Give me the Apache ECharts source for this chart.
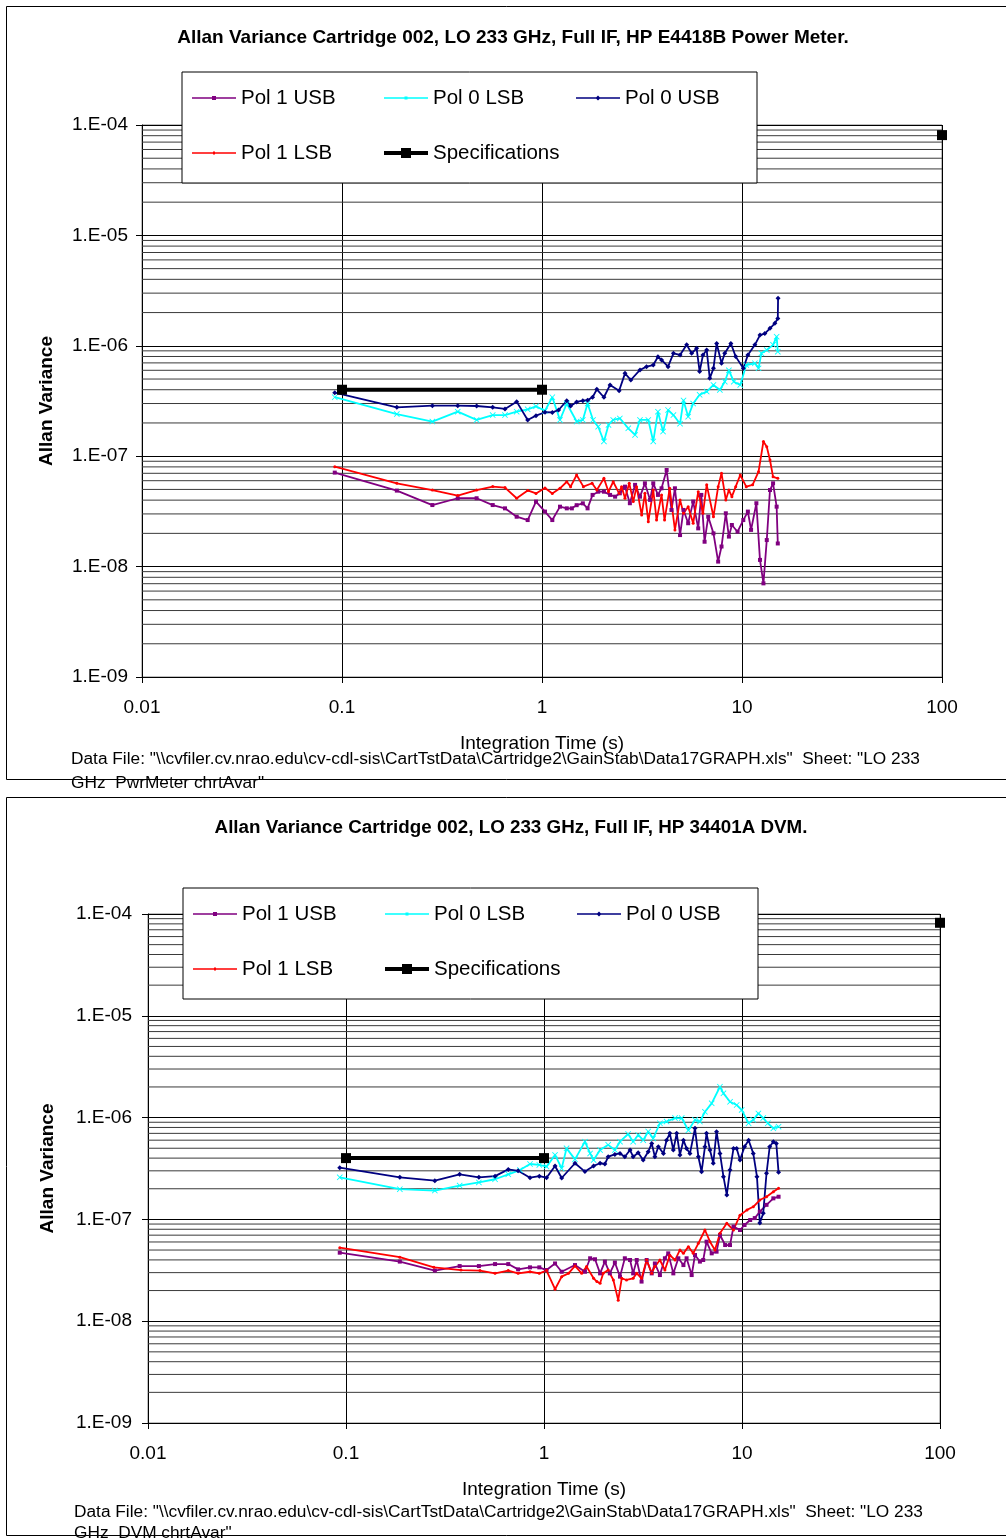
<!DOCTYPE html>
<html lang="en">
  <head>
    <meta charset="UTF-8" />
    <title>Allan Variance Cartridge 002</title>
    <script src="https://cdn.jsdelivr.net/npm/echarts@6.0.0/dist/echarts.min.js"></script>
    <style>
      body {
        margin: 0;
        background-color: #ffffff;
      }
      #main {
        width: 1006px;
        height: 1538px;
      }
    </style>
  </head>
  <body>
    <div id="main"></div>
    <script>
      // ---- Chart 1: HP E4418B power meter, [integration time (s), Allan variance]
      const pol1UsbPM = [[0.092,7.1e-8],[0.188,4.88e-8],[0.283,3.61e-8],[0.379,4.16e-8],[0.471,4.16e-8],[0.567,3.61e-8],[0.653,3.37e-8],[0.747,2.83e-8],[0.848,2.64e-8],[0.933,3.88e-8],[1.035,3.15e-8],[1.126,2.64e-8],[1.23,3.49e-8],[1.33,3.37e-8],[1.41,3.37e-8],[1.49,3.6e-8],[1.6,3.74e-8],[1.69,3.37e-8],[1.79,4.46e-8],[1.91,4.77e-8],[2.04,4.77e-8],[2.19,4.46e-8],[2.32,4.3e-8],[2.45,4.61e-8],[2.6,5.3e-8],[2.75,3.75e-8],[2.92,5.5e-8],[3.09,4.3e-8],[3.27,5.68e-8],[3.47,4.02e-8],[3.6,5.68e-8],[3.8,4.46e-8],[3.96,5.12e-8],[4.2,7.5e-8],[4.44,3.26e-8],[4.62,5.12e-8],[4.9,1.93e-8],[5.1,3.26e-8],[5.38,2.47e-8],[5.7,3.88e-8],[6.04,2.22e-8],[6.26,4.46e-8],[6.5,1.68e-8],[6.78,2.83e-8],[7.2,2.0e-8],[7.6,1.11e-8],[7.9,1.52e-8],[8.3,3.04e-8],[8.6,1.87e-8],[8.9,2.38e-8],[9.5,2.07e-8],[10.15,2.64e-8],[10.7,3.15e-8],[11.1,2.15e-8],[11.8,3.75e-8],[12.3,1.15e-8],[12.8,7.05e-9],[13.3,1.74e-8],[13.8,4.94e-8],[14.3,5.68e-8],[14.9,3.49e-8],[15.1,1.62e-8]];
      const pol0LsbPM = [[0.092,3.42e-7],[0.188,2.41e-7],[0.283,2.06e-7],[0.379,2.53e-7],[0.471,2.13e-7],[0.567,2.36e-7],[0.653,2.36e-7],[0.747,2.53e-7],[0.848,2.66e-7],[0.933,2.83e-7],[1.035,2.58e-7],[1.126,3.42e-7],[1.23,2.13e-7],[1.33,3.0e-7],[1.49,2.06e-7],[1.6,2.13e-7],[1.69,3.0e-7],[1.8,2.13e-7],[1.91,1.85e-7],[2.04,1.36e-7],[2.15,1.92e-7],[2.27,2.13e-7],[2.45,2.2e-7],[2.7,1.79e-7],[2.92,1.56e-7],[3.09,2.13e-7],[3.4,2.13e-7],[3.6,1.36e-7],[3.8,2.53e-7],[4.03,1.67e-7],[4.27,2.62e-7],[4.54,2.36e-7],[4.9,1.97e-7],[5.1,3.2e-7],[5.38,2.28e-7],[5.7,3.0e-7],[6.14,3.6e-7],[6.66,3.85e-7],[7.2,4.42e-7],[7.75,3.98e-7],[8.2,4.73e-7],[8.6,6.0e-7],[9.1,4.73e-7],[9.8,4.42e-7],[10.5,6.7e-7],[11.6,6.95e-7],[12.1,6.25e-7],[12.5,8.55e-7],[13.3,9.15e-7],[14.3,1.02e-6],[14.9,1.21e-6],[15.1,8.85e-7]];
      const pol0UsbPM = [[0.092,3.76e-7],[0.188,2.77e-7],[0.283,2.87e-7],[0.379,2.87e-7],[0.471,2.85e-7],[0.567,2.77e-7],[0.653,2.68e-7],[0.747,3.12e-7],[0.848,2.13e-7],[0.933,2.33e-7],[1.035,2.5e-7],[1.126,2.49e-7],[1.21,2.62e-7],[1.33,3.18e-7],[1.39,2.85e-7],[1.49,3.1e-7],[1.6,3.18e-7],[1.69,3.22e-7],[1.79,3.42e-7],[1.88,4.03e-7],[2.04,3.42e-7],[2.19,4.42e-7],[2.43,3.91e-7],[2.6,5.63e-7],[2.78,4.9e-7],[3.09,6.04e-7],[3.33,6.47e-7],[3.6,6.7e-7],[3.8,7.96e-7],[3.96,7.45e-7],[4.27,6.47e-7],[4.54,8.55e-7],[4.9,8.26e-7],[5.29,1.02e-6],[5.6,8.55e-7],[5.93,9.48e-7],[6.14,5.84e-7],[6.38,8.26e-7],[6.66,9.15e-7],[6.9,5.07e-7],[7.2,6.25e-7],[7.47,1.05e-6],[7.9,6.95e-7],[8.2,8.55e-7],[8.8,1.05e-6],[9.3,7.98e-7],[10.15,6.25e-7],[10.7,8.26e-7],[11.6,1.02e-6],[12.3,1.25e-6],[13.0,1.29e-6],[13.8,1.44e-6],[14.6,1.6e-6],[15.1,1.77e-6],[15.15,2.69e-6]];
      const pol1LsbPM = [[0.092,8.03e-8],[0.188,5.68e-8],[0.283,4.94e-8],[0.379,4.4e-8],[0.471,4.94e-8],[0.567,5.31e-8],[0.653,5.2e-8],[0.747,4.16e-8],[0.848,4.9e-8],[0.933,4.6e-8],[1.035,5.16e-8],[1.126,4.6e-8],[1.23,5.12e-8],[1.33,5.87e-8],[1.39,5.3e-8],[1.49,6.76e-8],[1.61,5.3e-8],[1.78,5.69e-8],[1.88,4.94e-8],[2.04,6.3e-8],[2.15,4.77e-8],[2.27,5.87e-8],[2.43,4.61e-8],[2.5,5.3e-8],[2.6,4.16e-8],[2.73,5.69e-8],[2.86,3.88e-8],[2.97,5.3e-8],[3.15,2.93e-8],[3.27,4.61e-8],[3.4,2.55e-8],[3.6,4.94e-8],[3.74,2.64e-8],[3.96,4.46e-8],[4.1,2.64e-8],[4.35,5.12e-8],[4.62,2.15e-8],[4.9,4.02e-8],[5.1,3.04e-8],[5.38,3.49e-8],[5.7,2.47e-8],[6.04,4.77e-8],[6.38,3.04e-8],[6.66,5.5e-8],[7.2,2.83e-8],[7.6,5.3e-8],[7.9,7.0e-8],[8.3,4.02e-8],[8.6,4.94e-8],[8.9,4.3e-8],[9.3,5.3e-8],[9.8,6.76e-8],[10.5,5.3e-8],[11.3,5.5e-8],[12.1,7.24e-8],[12.8,1.36e-7],[13.3,1.22e-7],[13.8,9.24e-8],[14.3,6.5e-8],[15.1,6.3e-8]];
      const specPM = [[0.1,4.0e-7],[1,4.0e-7],[10,'-'],[100,8.1e-5]];

      // ---- Chart 2: HP 34401A DVM
      const pol1UsbDVM = [[0.093,4.71e-8],[0.187,3.85e-8],[0.281,3.14e-8],[0.375,3.48e-8],[0.469,3.48e-8],[0.566,3.64e-8],[0.66,3.64e-8],[0.74,3.23e-8],[0.85,3.38e-8],[0.947,3.38e-8],[1.03,3.18e-8],[1.137,3.69e-8],[1.228,3.06e-8],[1.434,3.56e-8],[1.61,3.06e-8],[1.71,4.15e-8],[1.81,4.06e-8],[1.92,2.95e-8],[2.03,3.85e-8],[2.15,2.95e-8],[2.28,3.77e-8],[2.42,2.74e-8],[2.56,4.15e-8],[2.72,3.99e-8],[2.82,2.95e-8],[2.94,3.99e-8],[3.11,2.45e-8],[3.3,3.99e-8],[3.5,2.95e-8],[3.63,3.69e-8],[3.85,2.84e-8],[4.08,4.15e-8],[4.24,4.64e-8],[4.5,2.95e-8],[4.77,4.15e-8],[5.06,3.56e-8],[5.25,4.15e-8],[5.57,2.84e-8],[5.79,4.47e-8],[6.13,3.85e-8],[6.37,3.99e-8],[6.62,6.04e-8],[7.03,4.64e-8],[7.44,4.82e-8],[7.74,7.03e-8],[8.22,5.6e-8],[8.7,5.6e-8],[9.06,8.5e-8],[9.77,7.87e-8],[10.3,8.81e-8],[11.0,9.87e-8],[11.6,1.03e-7],[12.3,1.19e-7],[13.3,1.39e-7],[14.4,1.61e-7],[15.3,1.67e-7]];
      const pol0LsbDVM = [[0.093,2.59e-7],[0.187,1.98e-7],[0.281,1.92e-7],[0.375,2.15e-7],[0.469,2.31e-7],[0.566,2.48e-7],[0.66,2.77e-7],[0.756,3.05e-7],[0.85,3.5e-7],[0.947,3.43e-7],[1.03,3.3e-7],[1.137,4.3e-7],[1.228,3.17e-7],[1.3,4.99e-7],[1.434,3.89e-7],[1.61,5.8e-7],[1.71,4.45e-7],[1.78,3.83e-7],[1.92,4.8e-7],[2.11,5.4e-7],[2.28,4.8e-7],[2.42,5.8e-7],[2.66,6.9e-7],[2.82,5.8e-7],[2.99,6.75e-7],[3.17,6.0e-7],[3.36,7.3e-7],[3.56,6.25e-7],[3.85,8.8e-7],[4.16,9.15e-7],[4.59,9.9e-7],[4.96,9.9e-7],[5.36,7.5e-7],[5.79,9.5e-7],[6.13,9.15e-7],[6.5,1.14e-6],[7.03,1.38e-6],[7.74,2.01e-6],[8.06,1.73e-6],[8.7,1.43e-6],[9.4,1.33e-6],[9.96,1.19e-6],[10.8,8.8e-7],[11.4,9.5e-7],[12.1,1.1e-6],[12.8,9.9e-7],[13.5,8.8e-7],[14.4,7.85e-7],[15.3,8.15e-7]];
      const pol0UsbDVM = [[0.093,3.22e-7],[0.187,2.59e-7],[0.281,2.4e-7],[0.375,2.77e-7],[0.469,2.59e-7],[0.566,2.66e-7],[0.66,3.1e-7],[0.74,3.0e-7],[0.85,2.57e-7],[0.947,2.66e-7],[1.03,2.57e-7],[1.137,3.35e-7],[1.228,2.55e-7],[1.434,3.56e-7],[1.61,2.95e-7],[1.78,3.35e-7],[1.92,3.56e-7],[2.03,3.5e-7],[2.11,4.13e-7],[2.28,4.35e-7],[2.42,4.45e-7],[2.56,4.13e-7],[2.72,4.8e-7],[2.82,4.13e-7],[2.99,4.51e-7],[3.17,3.83e-7],[3.36,4.62e-7],[3.5,5.58e-7],[3.63,4.13e-7],[3.78,5.17e-7],[4.01,4.45e-7],[4.16,6.0e-7],[4.32,7.0e-7],[4.5,4.8e-7],[4.68,7.0e-7],[4.86,4.3e-7],[5.06,6.0e-7],[5.25,4.98e-7],[5.46,4.45e-7],[5.79,7.85e-7],[6.02,4.13e-7],[6.25,2.94e-7],[6.5,5.17e-7],[6.62,7.0e-7],[6.89,4.8e-7],[7.16,3.56e-7],[7.44,7.27e-7],[7.74,4.45e-7],[8.06,2.63e-7],[8.38,1.74e-7],[8.7,3.05e-7],[9.06,4.98e-7],[9.4,4.98e-7],[9.77,3.83e-7],[10.3,5.17e-7],[10.8,6.0e-7],[11.4,4.45e-7],[11.9,2.63e-7],[12.3,9.2e-8],[12.8,1.15e-7],[13.3,2.84e-7],[13.8,5.17e-7],[14.4,5.78e-7],[14.9,5.58e-7],[15.3,2.9e-7]];
      const pol1LsbDVM = [[0.093,5.28e-8],[0.187,4.25e-8],[0.278,3.38e-8],[0.381,3.18e-8],[0.475,3.14e-8],[0.566,2.95e-8],[0.66,3.14e-8],[0.74,2.95e-8],[0.85,3.06e-8],[0.947,2.95e-8],[1.03,3.14e-8],[1.137,2.06e-8],[1.228,2.74e-8],[1.33,2.95e-8],[1.434,3.49e-8],[1.55,2.95e-8],[1.64,3.44e-8],[1.78,2.64e-8],[1.85,2.45e-8],[1.92,2.36e-8],[1.99,2.95e-8],[2.11,3.18e-8],[2.24,2.54e-8],[2.37,1.61e-8],[2.47,2.64e-8],[2.61,2.54e-8],[2.82,2.64e-8],[2.94,2.95e-8],[3.11,2.64e-8],[3.3,3.99e-8],[3.5,2.95e-8],[3.63,3.44e-8],[3.85,3.99e-8],[4.08,3.18e-8],[4.32,4.45e-8],[4.59,3.99e-8],[4.86,5.01e-8],[5.06,4.64e-8],[5.36,5.4e-8],[5.67,4.64e-8],[6.02,5.82e-8],[6.5,7.87e-8],[6.89,6.04e-8],[7.3,5.01e-8],[7.74,7.3e-8],[8.38,9.16e-8],[9.06,7.87e-8],[9.77,1.1e-7],[10.6,1.24e-7],[11.4,1.33e-7],[12.3,1.55e-7],[13.3,1.67e-7],[14.4,1.87e-7],[15.3,2.02e-7]];
      const specDVM = [[0.1,4.0e-7],[1,4.0e-7],[10,'-'],[100,8.2e-5]];

      const seriesNames = ['Pol 1 USB', 'Pol 0 LSB', 'Pol 0 USB', 'Pol 1 LSB', 'Specifications'];
      const seriesColors = ['#800080', '#00ffff', '#000080', '#ff0000', '#000000'];
      const titles = [
        'Allan Variance Cartridge 002, LO 233 GHz, Full IF, HP E4418B Power Meter.',
        'Allan Variance Cartridge 002, LO 233 GHz, Full IF, HP 34401A DVM.'
      ];
      const fileNote = 'Data File: "\\\\cvfiler.cv.nrao.edu\\cv-cdl-sis\\CartTstData\\Cartridge2\\GainStab\\Data17GRAPH.xls"  Sheet: "LO 233';
      const sheetNotes = ['GHz  PwrMeter chrtAvar"', 'GHz  DVM chrtAvar"'];

      const FONT = '"Liberation Sans", Arial, sans-serif';
      const crossPath = 'path://M0,1L1,0L5,4L9,0L10,1L6,5L10,9L9,10L5,6L1,10L0,9L4,5Z';
      const symbols = ['rect', crossPath, 'diamond', 'circle', 'rect'];
      const symbolSizes = [4, 6, 5, 3, 10];
      // legend icons: line with its marker, drawn as one path
      const legendIcons = [
        'path://M0,1.2H44V2.8H0ZM20,0H24V4H20Z',
        'path://M0,1.2H44V2.8H0ZM20.5,0.5H23.5V3.5H20.5Z',
        'path://M0,1.7H44V3.3H0ZM22,0L24.5,2.5L22,5L19.5,2.5Z',
        'path://M0,1.2H44V2.8H0ZM21,0.5H23V3.5H21Z',
        'path://M0,3H44V7H0ZM17,0H27V10H17Z'
      ];

      // minor horizontal gridlines at 2..9 x 10^e, drawn as one broken line across the plot
      const minorGrid = [];
      for (let e = -9; e <= -5; e++) {
        for (let m = 2; m <= 9; m++) {
          const v = m * Math.pow(10, e);
          minorGrid.push([0.01, v], [100, v], [100, '-']);
        }
      }

      const chart = echarts.init(document.getElementById('main'));

      // layout of the two stacked charts
      const panels = [
        { grid: { left: 142, top: 125, width: 800, height: 552 }, legend: { left: 182, top: 72 },
          yNameGap: 86, yLabelMargin: 14, xLabelMargin: 21, xNameGap: 57,
          data: [pol1UsbPM, pol0LsbPM, pol0UsbPM, pol1LsbPM, specPM] },
        { grid: { left: 148, top: 914, width: 792, height: 509 }, legend: { left: 183, top: 888 },
          yNameGap: 91, yLabelMargin: 16, xLabelMargin: 21, xNameGap: 57,
          data: [pol1UsbDVM, pol0LsbDVM, pol0UsbDVM, pol1LsbDVM, specDVM] }
      ];

      const grids = [], xAxes = [], yAxes = [], legends = [], series = [];
      panels.forEach((p, i) => {
        grids.push(Object.assign({ show: true, borderColor: '#808080', borderWidth: 1, backgroundColor: 'transparent' }, p.grid));
        xAxes.push({
          gridIndex: i, type: 'log', logBase: 10, min: 0.01, max: 100,
          name: 'Integration Time (s)', nameLocation: 'middle', nameGap: p.xNameGap,
          nameTextStyle: { fontSize: 19, color: '#000', fontFamily: FONT },
          axisLine: { lineStyle: { color: '#000', width: 1 } },
          axisTick: { show: true, length: 6, lineStyle: { color: '#000' } },
          axisLabel: { color: '#000', fontSize: 19, fontFamily: FONT, margin: p.xLabelMargin,
            formatter: v => String(parseFloat(Number(v).toPrecision(2))) },
          splitLine: { show: true, lineStyle: { color: '#000', width: 1 } }
        });
        yAxes.push({
          gridIndex: i, type: 'log', logBase: 10, min: 1e-9, max: 1e-4,
          name: 'Allan Variance', nameLocation: 'middle', nameGap: p.yNameGap,
          nameTextStyle: { fontSize: 19, fontWeight: 'bold', color: '#000', fontFamily: FONT },
          axisLine: { lineStyle: { color: '#000', width: 1 } },
          axisTick: { show: true, length: 6, lineStyle: { color: '#000' } },
          axisLabel: { color: '#000', fontSize: 19, fontFamily: FONT, margin: p.yLabelMargin,
            formatter: v => {
              const e = Math.round(Math.log10(v));
              return '1.E' + (e < 0 ? '-' : '+') + String(Math.abs(e)).padStart(2, '0');
            } },
          splitLine: { show: true, lineStyle: { color: '#000', width: 1 } }
        });
        legends.push({
          data: seriesNames.map((n, k) => ({ name: n, icon: legendIcons[k] })),
          left: p.legend.left, top: p.legend.top, width: 570,
          orient: 'horizontal', itemWidth: 44, itemHeight: 10, itemGap: 11, symbolKeepAspect: true,
          padding: [4, 0, 8, 10], backgroundColor: '#fff', borderColor: '#000', borderWidth: 1,
          selectedMode: false,
          textStyle: { fontSize: 20.5, color: '#000', fontFamily: FONT, width: 132, lineHeight: 44 }
        });
        series.push({
          type: 'line', name: 'minor' + i, xAxisIndex: i, yAxisIndex: i,
          data: minorGrid, symbol: 'none', connectNulls: false, silent: true, z: 1,
          lineStyle: { color: '#3a3a3a', width: 1 }, emphasis: { disabled: true }
        });
        p.data.forEach((d, k) => {
          const spec = k === 4;
          series.push({
            type: 'line', name: seriesNames[k], xAxisIndex: i, yAxisIndex: i, data: d,
            symbol: symbols[k], symbolSize: symbolSizes[k], showAllSymbol: true,
            connectNulls: false, clip: !spec, z: spec ? 4 : 3,
            lineStyle: { color: seriesColors[k], width: spec ? 4 : 1.8 },
            itemStyle: { color: seriesColors[k] },
            emphasis: { disabled: true }
          });
        });
      });

      const graphics = [
        { type: 'rect', shape: { x: 6.5, y: 6.5, width: 1010, height: 773 }, style: { fill: 'none', stroke: '#000', lineWidth: 1 }, z: 0 },
        { type: 'rect', shape: { x: 6.5, y: 797.5, width: 1010, height: 738 }, style: { fill: 'none', stroke: '#000', lineWidth: 1 }, z: 0 },
        { type: 'text', x: 513, y: 38, z: 10, style: { text: titles[0], fontSize: 19, fontWeight: 'bold', fontFamily: FONT, fill: '#000', align: 'center', verticalAlign: 'middle' } },
        { type: 'text', x: 511, y: 828, z: 10, style: { text: titles[1], fontSize: 18.8, fontWeight: 'bold', fontFamily: FONT, fill: '#000', align: 'center', verticalAlign: 'middle' } },
        { type: 'text', x: 71, y: 759, z: 10, style: { text: fileNote, fontSize: 17.3, fontFamily: FONT, fill: '#000', verticalAlign: 'middle' } },
        { type: 'text', x: 71, y: 783, z: 10, style: { text: sheetNotes[0], fontSize: 17.3, fontFamily: FONT, fill: '#000', verticalAlign: 'middle' } },
        { type: 'text', x: 74, y: 1512, z: 10, style: { text: fileNote, fontSize: 17.3, fontFamily: FONT, fill: '#000', verticalAlign: 'middle' } },
        { type: 'text', x: 74, y: 1533, z: 10, style: { text: sheetNotes[1], fontSize: 17.3, fontFamily: FONT, fill: '#000', verticalAlign: 'middle' } }
      ];

      chart.setOption({
        animation: false,
        backgroundColor: '#ffffff',
        textStyle: { fontFamily: FONT },
        grid: grids,
        xAxis: xAxes,
        yAxis: yAxes,
        legend: legends,
        series: series,
        graphic: graphics
      });
    </script>
  </body>
</html>
